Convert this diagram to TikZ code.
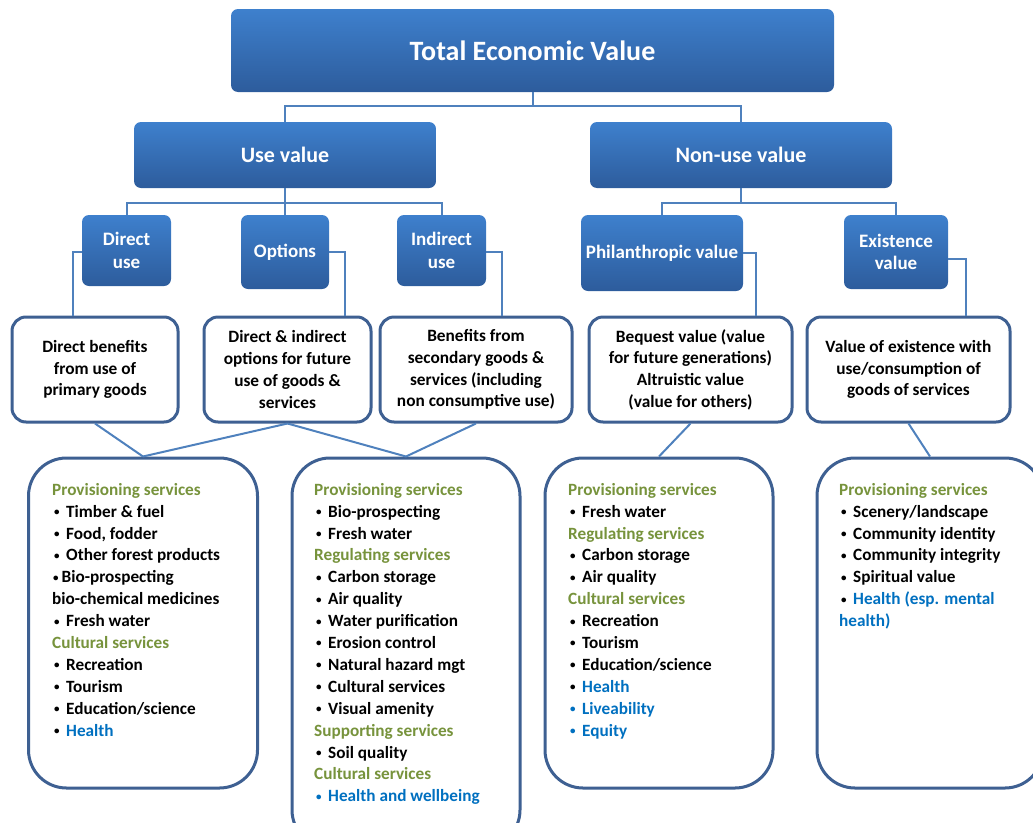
\documentclass[tikz,border=0pt]{standalone}
\usepackage{fontspec}
\setmainfont{Carlito}
\usetikzlibrary{calc}

\definecolor{hdrTop}{RGB}{62,128,205}
\definecolor{hdrBot}{RGB}{45,92,156}
\definecolor{linkblue}{RGB}{79,129,189}
\definecolor{frameblue}{RGB}{62,96,146}
\definecolor{svcgreen}{RGB}{119,147,60}
\definecolor{hlblue}{RGB}{0,112,192}

% small bullet and bullet item with a fixed indent
\newcommand\bul{\raisebox{1.6pt}{\fontsize{11}{11}\selectfont •}}
\newcommand\bitem[1]{\hspace*{2pt}\makebox[12pt][l]{\bul}#1}
\newcommand\svc[1]{{\color{svcgreen}#1}}
\newcommand\hl[1]{{\color{hlblue}#1}}

\tikzset{
  x=1pt, y=-1pt,
  hdr/.style={rounded corners=7pt, top color=hdrTop, bottom color=hdrBot,
    draw=none, text=white, font=\bfseries, align=center, inner sep=0pt},
  descbox/.style={draw=frameblue, line width=3pt, rounded corners=14pt, fill=white,
    align=center, inner sep=0pt, font=\bfseries\fontsize{17.3}{21.7}\selectfont},
  listbox/.style={draw=frameblue, line width=3pt, rounded corners=38pt, fill=white,
    inner sep=0pt},
  listtext/.style={anchor=north west, align=left, inner sep=0pt,
    font=\bfseries\fontsize{17.2}{21.9}\selectfont},
  link/.style={draw=linkblue, line width=2pt},
  small hdr/.style={hdr, font=\bfseries\fontsize{19}{22.5}\selectfont},
}

\begin{document}
\begin{tikzpicture}
\useasboundingbox (0,0) rectangle (1033,822);
\clip (0,0) rectangle (1033,822);

% ---- blue heading boxes
\node[hdr, minimum width=603pt, minimum height=83pt, font=\bfseries\fontsize{28}{33}\selectfont]
  (tev) at (532.5,50.5) {Total Economic Value};
\node[hdr, minimum width=302pt, minimum height=66pt, font=\bfseries\fontsize{22}{26}\selectfont]
  (use) at (285,155) {Use value};
\node[hdr, minimum width=302pt, minimum height=66pt, font=\bfseries\fontsize{22}{26}\selectfont]
  (nonuse) at (741,155) {Non-use value};

\node[small hdr, minimum width=89pt, minimum height=71pt] (direct) at (126.5,250.5) {Direct\\use};
\node[small hdr, minimum width=88pt, minimum height=74pt] (options) at (285,252) {Options};
\node[small hdr, minimum width=89pt, minimum height=71pt] (indirect) at (441.5,250.5) {Indirect\\use};
\node[small hdr, minimum width=162pt, minimum height=76pt] (phil) at (662,253) {Philanthropic value};
\node[small hdr, minimum width=104pt, minimum height=74pt] (exist) at (896,252) {Existence\\value};

% ---- description boxes
\node[descbox, minimum width=166pt, minimum height=105pt] (b1) at (95,369.5)
  {Direct benefits\\from use of\\primary goods};
\node[descbox, minimum width=167pt, minimum height=105pt] (b2) at (287.5,369.5)
  {Direct \& indirect\\options for future\\use of goods \&\\services};
\node[descbox, minimum width=192pt, minimum height=105pt] (b3) at (476,369.5)
  {Benefits from\\secondary goods \&\\services (including\\non consumptive use)};
\node[descbox, minimum width=203pt, minimum height=105pt] (b4) at (690.5,369.5)
  {Bequest value (value\\for future generations)\\Altruistic value\\(value for others)};
\node[descbox, minimum width=203pt, minimum height=105pt] (b5) at (908.5,369.5)
  {Value of existence with\\use/consumption of\\goods of services};

% ---- service list boxes
\node[listbox, minimum width=229pt, minimum height=330pt] (l1) at (143,623) {};
\node[listbox, minimum width=228pt, minimum height=390pt] (l2) at (406,653) {};
\node[listbox, minimum width=228pt, minimum height=330pt] (l3) at (659,623) {};
\node[listbox, minimum width=226pt, minimum height=330pt] (l4) at (930,623) {};

\node[listtext] (t1) at (52,483) {%
  \svc{Provisioning services}\\
  \bitem{Timber \& fuel}\\
  \bitem{Food, fodder}\\
  \bitem{Other forest products}\\
  \hspace*{1pt}\bul\hspace{3pt}Bio-prospecting\\
  bio-chemical medicines\\
  \bitem{Fresh water}\\
  \svc{Cultural services}\\
  \bitem{Recreation}\\
  \bitem{Tourism}\\
  \bitem{Education/science}\\
  \bitem{\hl{Health}}};

\node[listtext] (t2) at (314,483) {%
  \svc{Provisioning services}\\
  \bitem{Bio-prospecting}\\
  \bitem{Fresh water}\\
  \svc{Regulating services}\\
  \bitem{Carbon storage}\\
  \bitem{Air quality}\\
  \bitem{Water purification}\\
  \bitem{Erosion control}\\
  \bitem{Natural hazard mgt}\\
  \bitem{Cultural services}\\
  \bitem{Visual amenity}\\
  \svc{Supporting services}\\
  \bitem{Soil quality}\\
  \svc{Cultural services}\\
  \hl{\bitem{Health and wellbeing}}};

\node[listtext] (t3) at (568,483) {%
  \svc{Provisioning services}\\
  \bitem{Fresh water}\\
  \svc{Regulating services}\\
  \bitem{Carbon storage}\\
  \bitem{Air quality}\\
  \svc{Cultural services}\\
  \bitem{Recreation}\\
  \bitem{Tourism}\\
  \bitem{Education/science}\\
  \bitem{\hl{Health}}\\
  \hl{\bitem{Liveability}}\\
  \hl{\bitem{Equity}}};

\node[listtext] (t4) at (839,483) {%
  \svc{Provisioning services}\\
  \bitem{Scenery/landscape}\\
  \bitem{Community identity}\\
  \bitem{Community integrity}\\
  \bitem{Spiritual value}\\
  \bitem{\hl{Health (esp. mental}}\\
  \hl{health)}};

% ---- tree connectors
\draw[link] (tev.south) -- ++(0,14) -| (use.north);
\draw[link] (tev.south) -- ++(0,14) -| (nonuse.north);
\draw[link] (use.south) -- ++(0,15) -| (direct.north);
\draw[link] (use.south) -- (options.north);
\draw[link] (use.south) -- ++(0,15) -| (indirect.north);
\draw[link] (nonuse.south) -- ++(0,15) -| (phil.north);
\draw[link] (nonuse.south) -- ++(0,15) -| (exist.north);

% ---- elbow links to the description boxes
\draw[link] ($(direct.west)+(0,1.5)$) -- ++(-9,0) coordinate (k1) -- (k1 |- b1.north);
\draw[link] (options.east) -- ++(16,0) coordinate (k2) -- (k2 |- b2.north);
\draw[link] ($(indirect.east)+(0,1.5)$) -- ++(16,0) coordinate (k3) -- (k3 |- b3.north);
\draw[link] (phil.east) -- ++(13,0) coordinate (k4) -- (k4 |- b4.north);
\draw[link] ($(exist.east)+(0,7)$) -- ++(18,0) coordinate (k5) -- (k5 |- b5.north);

% ---- links to the service lists
\draw[link] (b1.south) -- (l1.north);
\draw[link] (b2.south) -- (l1.north);
\draw[link] (b2.south) -- (l2.north);
\draw[link] (b3.south) -- (l2.north);
\draw[link] (b4.south) -- (l3.north);
\draw[link] (b5.south) -- (l4.north);
\end{tikzpicture}
\end{document}
